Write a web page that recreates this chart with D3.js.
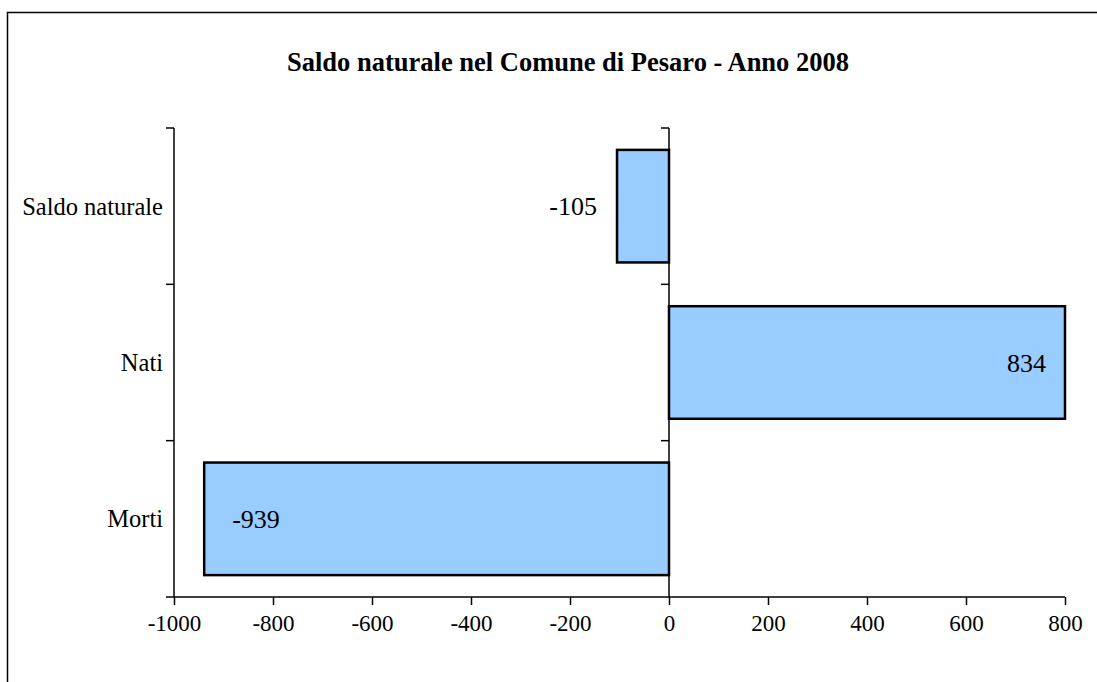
<!DOCTYPE html>
<html>
<head>
<meta charset="utf-8">
<script src="https://cdn.jsdelivr.net/npm/d3@7"></script>
<style>
  body { margin: 0; background: #fff; overflow: hidden; }
  svg { display: block; }
  text { font-family: "Liberation Serif", "Times New Roman", serif; fill: #000; }
</style>
</head>
<body>
<div id="chart"></div>
<script>
var categories = ["Saldo naturale", "Nati", "Morti"];
var values = [-105, 834, -939];
var labelPlacement = ["outside", "inside", "inside"];
var xTicks = [-1000, -800, -600, -400, -200, 0, 200, 400, 600, 800];

var svgWidth = 1097;
var svgHeight = 682;

var margin = { top: 128, right: 32, bottom: 85, left: 174 };
var width = 1065 - margin.left;
var height = 597 - margin.top;

var svg = d3.select("#chart")
  .append("svg")
  .attr("width", svgWidth)
  .attr("height", svgHeight);

// outer frame, only the top and left edges fall inside the picture
svg.append("path")
  .attr("d", `M7.5,${svgHeight}V12.5H${svgWidth}`)
  .attr("fill", "none")
  .attr("stroke", "#000")
  .attr("stroke-width", 1.5);

svg.append("text")
  .attr("x", 568)
  .attr("y", 71)
  .attr("text-anchor", "middle")
  .style("font-size", "26.5px")
  .style("font-weight", "bold")
  .text("Saldo naturale nel Comune di Pesaro - Anno 2008");

var chartGroup = svg.append("g")
  .attr("transform", `translate(${margin.left}, ${margin.top})`);

var xScale = d3.scaleLinear()
  .domain([-1000, 800])
  .range([0, width])
  .clamp(true);

var yScale = d3.scaleBand()
  .domain(categories)
  .range([0, height])
  .paddingInner(0.28)
  .paddingOuter(0.14);

// bars
chartGroup.selectAll("rect.bar")
  .data(values)
  .enter()
  .append("rect")
  .attr("class", "bar")
  .attr("x", d => Math.min(xScale(d), xScale(0)))
  .attr("y", (d, i) => yScale(categories[i]))
  .attr("width", d => Math.abs(xScale(d) - xScale(0)))
  .attr("height", yScale.bandwidth())
  .attr("fill", "#99ccff")
  .attr("stroke", "#000")
  .attr("stroke-width", 2.5);

// value labels
chartGroup.selectAll("text.val")
  .data(values)
  .enter()
  .append("text")
  .attr("class", "val")
  .attr("x", function(d, i) {
    var end = xScale(d);
    if (labelPlacement[i] === "outside") return d < 0 ? end - 20 : end + 20;
    return d < 0 ? end + 28 : end - 19;
  })
  .attr("y", (d, i) => yScale(categories[i]) + yScale.bandwidth() / 2)
  .attr("dy", "0.35em")
  .attr("text-anchor", function(d, i) {
    if (labelPlacement[i] === "outside") return d < 0 ? "end" : "start";
    return d < 0 ? "start" : "end";
  })
  .style("font-size", "26px")
  .text(d => d);

// category axis on the left edge, repeated at zero
var yTickPos = [0].concat(categories.map(c => yScale(c) + yScale.bandwidth() + yScale.step() * yScale.paddingInner() / 2));
yTickPos[yTickPos.length - 1] = height;

function drawCatAxis(x) {
  var g = chartGroup.append("g").attr("transform", `translate(${x}, 0)`);
  g.append("line")
    .attr("y1", 0).attr("y2", height)
    .attr("stroke", "#000").attr("stroke-width", 1.5);
  g.selectAll("line.tk")
    .data(yTickPos.slice(0, yTickPos.length - 1))
    .enter()
    .append("line")
    .attr("class", "tk")
    .attr("x1", -8).attr("x2", 0)
    .attr("y1", d => d).attr("y2", d => d)
    .attr("stroke", "#000").attr("stroke-width", 1.5);
  return g;
}
drawCatAxis(0);
drawCatAxis(xScale(0));

chartGroup.selectAll("text.cat")
  .data(categories)
  .enter()
  .append("text")
  .attr("class", "cat")
  .attr("x", -11)
  .attr("y", d => yScale(d) + yScale.bandwidth() / 2)
  .attr("dy", "0.35em")
  .attr("text-anchor", "end")
  .style("font-size", "24.5px")
  .text(d => d);

// value axis
var xAxis = chartGroup.append("g")
  .attr("transform", `translate(0, ${height})`)
  .call(d3.axisBottom(xScale).tickValues(xTicks).tickFormat(d => String(d))
    .tickSize(8).tickSizeOuter(0).tickPadding(10));

xAxis.select(".domain").attr("d", `M-8,0H${width}`).attr("stroke-width", 1.5);
xAxis.selectAll(".tick line").attr("stroke-width", 1.5);
xAxis.selectAll(".tick text")
  .style("font-family", "'Liberation Serif', 'Times New Roman', serif")
  .style("font-size", "23px")
  .style("fill", "#000");
</script>
</body>
</html>
